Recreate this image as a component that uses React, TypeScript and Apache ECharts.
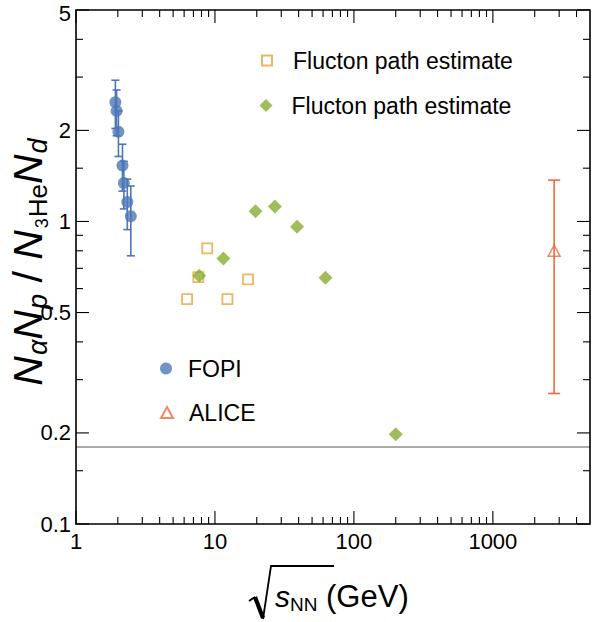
import React, { useEffect, useRef } from "react";
import * as echarts from "echarts";

const FONT = "'Liberation Sans', Arial, Helvetica, sans-serif";

// ---- data ----
const fopiX = [1.92, 1.96, 2.02, 2.16, 2.21, 2.34, 2.48];
const fopiY = [2.48, 2.32, 1.98, 1.53, 1.34, 1.16, 1.04];
const fopiErr = [0.45, 0.4, 0.34, 0.27, 0.24, 0.22, 0.27];

const flucSpsX = [6.3, 7.6, 8.8, 12.3, 17.3];
const flucSpsY = [0.554, 0.655, 0.815, 0.554, 0.644];

const flucBesX = [7.7, 11.5, 19.6, 27, 39, 62.4, 200];
const flucBesY = [0.662, 0.754, 1.081, 1.12, 0.961, 0.652, 0.198];

const aliceX = [2760];
const aliceY = [0.8];
const aliceLow = [0.27];
const aliceHigh = [1.37];

const refLineY = 0.18;

const X_MIN = 1;
const X_MAX = 5000;
const Y_MIN = 0.1;
const Y_MAX = 5;

const xMajorTicks = [1, 10, 100, 1000];
const xMajorLabels = ["1", "10", "100", "1000"];
const xMinorTicks = [2, 3, 4, 5, 6, 7, 8, 9, 20, 30, 40, 50, 60, 70, 80, 90, 200, 300, 400, 500, 600, 700, 800, 900, 2000, 3000, 4000];
const yMajorTicks = [0.1, 0.2, 0.5, 1, 2, 5];
const yMajorLabels = ["0.1", "0.2", "0.5", "1", "2", "5"];
const yMinorTicks = [0.15, 0.3, 0.4, 0.6, 0.7, 0.8, 0.9, 1.5, 3, 4];

const C_FOPI = "#4d77b9";
const C_SPS = "#e9a43c";
const C_BES = "#8aac32";
const C_ALICE = "#ec6a3e";

function errorBarSeries(name: string, xs: number[], lo: number[], hi: number[], color: string, cap: number) {
  return {
    type: "custom",
    name,
    silent: true,
    z: 1,
    data: xs.map((x, i) => [x, lo[i], hi[i]]),
    encode: { x: 0, y: [1, 2] },
    renderItem: (params: any, api: any) => {
      const x = api.value(0);
      const top = api.coord([x, api.value(2)]);
      const bot = api.coord([x, api.value(1)]);
      const st = { stroke: color, lineWidth: 1.6 };
      return {
        type: "group",
        children: [
          { type: "line", shape: { x1: top[0], y1: top[1], x2: bot[0], y2: bot[1] }, style: st },
          { type: "line", shape: { x1: top[0] - cap, y1: top[1], x2: top[0] + cap, y2: top[1] }, style: st },
          { type: "line", shape: { x1: bot[0] - cap, y1: bot[1], x2: bot[0] + cap, y2: bot[1] }, style: st },
        ],
      };
    },
  };
}

export default function App() {
  const ref = useRef<HTMLDivElement>(null);
  useEffect(() => {
    const chart = echarts.init(ref.current!, null, { renderer: "svg" });
    const legendBase = {
      orient: "vertical",
      padding: 0,
      selectedMode: false,
      itemGap: 0,
    };
    const option: any = {
      animation: false,
      backgroundColor: "#fff",
      grid: { left: 76, right: 3, top: 10, bottom: 98 },
      xAxis: {
        type: "log",
        logBase: 10,
        min: X_MIN,
        max: X_MAX,
        axisLine: { show: false },
        axisTick: { show: false },
        axisLabel: { show: false },
        splitLine: { show: false },
      },
      yAxis: {
        type: "log",
        logBase: 10,
        min: Y_MIN,
        max: Y_MAX,
        axisLine: { show: false },
        axisTick: { show: false },
        axisLabel: { show: false },
        splitLine: { show: false },
      },
      legend: [
        {
          ...legendBase,
          data: ["flucSps"],
          left: 261,
          top: 49,
          itemWidth: 10,
          itemHeight: 10,
          formatter: () => "Flucton path estimate",
          textStyle: { fontSize: 23, fontFamily: FONT, color: "#000", padding: [0, 0, 10, 16] },
        },
        {
          ...legendBase,
          data: ["flucBes"],
          left: 259.5,
          top: 94,
          itemWidth: 13,
          itemHeight: 13,
          formatter: () => "Flucton path estimate",
          textStyle: { fontSize: 23, fontFamily: FONT, color: "#000", padding: [0, 0, 14, 14] },
        },
        {
          ...legendBase,
          data: ["FOPI"],
          left: 160,
          top: 357,
          itemWidth: 12,
          itemHeight: 12,
          textStyle: { fontSize: 23, fontFamily: FONT, color: "#000", padding: [0, 0, 10, 11] },
        },
        {
          ...legendBase,
          data: ["ALICE"],
          left: 160,
          top: 401,
          itemWidth: 12,
          itemHeight: 11,
          textStyle: { fontSize: 23, fontFamily: FONT, color: "#000", padding: [0, 0, 14, 11] },
        },
      ],
      series: [
        {
          type: "scatter",
          name: "flucSps",
          data: flucSpsX.map((x, i) => [x, flucSpsY[i]]),
          symbol: "rect",
          symbolSize: 10,
          itemStyle: { color: "rgba(255,255,255,0)", borderColor: C_SPS, borderWidth: 1.8 },
          z: 3,
          markLine: {
            silent: true,
            symbol: ["none", "none"],
            label: { show: false },
            lineStyle: { color: "#8e8e8e", width: 1.5, type: "solid" },
            data: [{ yAxis: refLineY }],
          },
        },
        {
          type: "scatter",
          name: "flucBes",
          data: flucBesX.map((x, i) => [x, flucBesY[i]]),
          symbol: "diamond",
          symbolSize: [14, 14],
          itemStyle: { color: C_BES },
          z: 4,
        },
        errorBarSeries("fopiErr", fopiX, fopiX.map((_, i) => fopiY[i] - fopiErr[i]), fopiX.map((_, i) => fopiY[i] + fopiErr[i]), C_FOPI, 4),
        {
          type: "scatter",
          name: "FOPI",
          data: fopiX.map((x, i) => [x, fopiY[i]]),
          symbol: "circle",
          symbolSize: 12,
          itemStyle: { color: C_FOPI },
          z: 3,
        },
        errorBarSeries("aliceErr", aliceX, aliceLow, aliceHigh, C_ALICE, 6),
        {
          type: "scatter",
          name: "ALICE",
          data: aliceX.map((x, i) => [x, aliceY[i]]),
          symbol: "triangle",
          symbolSize: [12, 11],
          itemStyle: { color: "rgba(255,255,255,0)", borderColor: C_ALICE, borderWidth: 1.5 },
          z: 3,
        },
      ],
    };
    chart.setOption(option);

    const px = (v: number) => chart.convertToPixel({ xAxisIndex: 0 }, v) as number;
    const py = (v: number) => chart.convertToPixel({ yAxisIndex: 0 }, v) as number;
    const x0 = px(X_MIN), x1 = px(X_MAX), y0 = py(Y_MIN), y1 = py(Y_MAX);
    const MAJ = 13, MIN = 7;
    const g: any[] = [];
    const tick = (a: number, b: number, c: number, d: number) =>
      g.push({ type: "line", silent: true, z: 10, shape: { x1: a, y1: b, x2: c, y2: d }, style: { stroke: "#000", lineWidth: 1.1 } });
    xMajorTicks.forEach((v, i) => {
      const x = px(v);
      tick(x, y0, x, y0 - MAJ);
      tick(x, y1, x, y1 + MAJ);
      g.push({
        type: "text", silent: true, z: 10, x, y: y0 + 17,
        style: { text: xMajorLabels[i], fill: "#000", font: `22px ${FONT}`, align: "center", verticalAlign: "middle" },
      });
    });
    xMinorTicks.forEach((v) => {
      const x = px(v);
      tick(x, y0, x, y0 - MIN);
      tick(x, y1, x, y1 + MIN);
    });
    yMajorTicks.forEach((v, i) => {
      const y = py(v);
      tick(x0, y, x0 + MAJ, y);
      tick(x1, y, x1 - MAJ, y);
      g.push({
        type: "text", silent: true, z: 10, x: x0 - 5, y: Math.max(y, 13),
        style: { text: yMajorLabels[i], fill: "#000", font: `22px ${FONT}`, align: "right", verticalAlign: "middle" },
      });
    });
    yMinorTicks.forEach((v) => {
      const y = py(v);
      tick(x0, y, x0 + MIN, y);
      tick(x1, y, x1 - MIN, y);
    });
    // frame
    g.push({
      type: "rect", silent: true, z: 11,
      shape: { x: x0, y: y1, width: x1 - x0, height: y0 - y1 },
      style: { fill: "none", stroke: "#000", lineWidth: 1.6 },
    });
    // y axis title
    g.push({
      type: "text", silent: true, z: 10, x: 28, y: 262, rotation: Math.PI / 2,
      style: {
        text: "{N|N}{s|α}{N|N}{s|p}{sl| / }{N|N}{t|3}{h|He}{N|N}{s|d}",
        fill: "#000",
        align: "center",
        verticalAlign: "middle",
        rich: {
          N: { fontSize: 41, fontStyle: "italic", fontFamily: FONT, lineHeight: 46, verticalAlign: "middle" },
          s: { fontSize: 27, fontStyle: "italic", fontFamily: FONT, lineHeight: 27, verticalAlign: "bottom", padding: [0, 0, 0, 1] },
          h: { fontSize: 26, fontFamily: FONT, lineHeight: 27, verticalAlign: "bottom" },
          t: { fontSize: 18, fontFamily: FONT, lineHeight: 36, verticalAlign: "bottom", padding: [0, 1, 0, 2] },
          sl: { fontSize: 41, fontFamily: FONT, lineHeight: 46, verticalAlign: "middle" },
        },
      },
    });
    // x axis title: radical sign + text
    g.push({ type: "polyline", silent: true, shape: { points: [[249, 601], [255, 597]] }, style: { stroke: "#000", lineWidth: 2, fill: "none" } });
    g.push({ type: "polyline", silent: true, shape: { points: [[255, 597], [263, 618]] }, style: { stroke: "#000", lineWidth: 4.2, fill: "none" } });
    g.push({ type: "polyline", silent: true, shape: { points: [[263, 619], [271, 566], [334, 566]] }, style: { stroke: "#000", lineWidth: 1.8, fill: "none" } });
    g.push({
      type: "text", silent: true, x: 275, y: 596,
      style: {
        text: "{s|s}{n|NN}{g| (GeV)}",
        fill: "#000",
        align: "left",
        verticalAlign: "middle",
        rich: {
          s: { fontSize: 30, fontStyle: "italic", fontFamily: FONT, lineHeight: 36, verticalAlign: "middle" },
          n: { fontSize: 19, fontFamily: FONT, lineHeight: 20, verticalAlign: "bottom" },
          g: { fontSize: 31, fontFamily: FONT, lineHeight: 36, verticalAlign: "middle" },
        },
      },
    });
    chart.setOption({ graphic: g });
    return () => chart.dispose();
  }, []);
  return <div ref={ref} style={{ position: "absolute", left: 0, top: 0, width: 593, height: 622 }} />;
}
